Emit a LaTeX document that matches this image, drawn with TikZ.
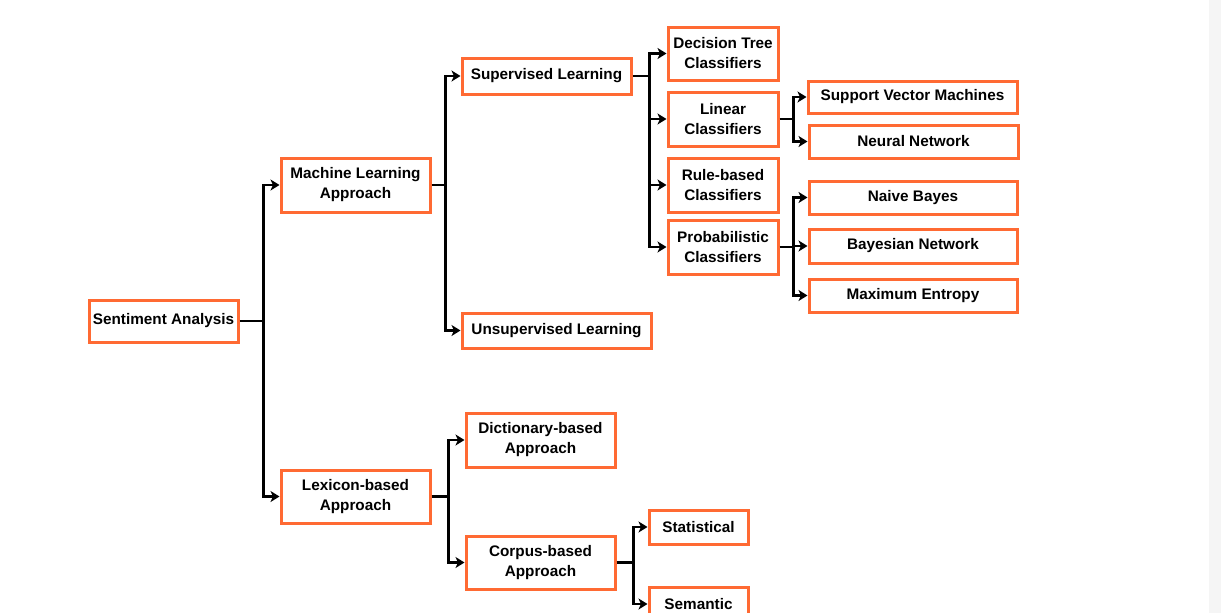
\documentclass[tikz,border=0pt]{standalone}
\usepackage{fontspec}
\setmainfont{Liberation Sans}
\usetikzlibrary{arrows.meta,positioning}
\definecolor{boxorange}{HTML}{FF6A33}
\begin{document}
\begin{tikzpicture}[
  x=1pt, y=-1pt,
  block/.style={rectangle, draw=boxorange, line width=3pt, fill=white, align=center,
    inner sep=2pt, font=\bfseries\fontsize{15.3}{20}\selectfont},
  link/.style={line width=2.7pt},
  arr/.style={link, -{Stealth[length=9pt,width=11pt,inset=2.5pt]}}
]
\useasboundingbox (0,0) rectangle (1221,613);
\fill[black!4] (1209,0) rectangle (1221,613);

% level 0 and 1
\node[block, minimum width=149pt, minimum height=42pt] (sa) at (163.5,321) {Sentiment Analysis};
\node[block, minimum width=149pt, minimum height=54pt] (ml) at (355.5,185) {Machine Learning\\Approach};
\node[block, minimum width=149pt, minimum height=53pt] (lex) at (355.5,496.5) {Lexicon-based\\Approach};

% level 2
\node[block, minimum width=169pt, minimum height=36pt] (sup) at (546.5,76) {Supervised Learning};
\node[block, minimum width=189pt, minimum height=35pt] (unsup) at (556.5,330.5) {Unsupervised Learning};
\node[block, minimum width=149pt, minimum height=54pt] (dict) at (540.5,440) {Dictionary-based\\Approach};
\node[block, minimum width=149pt, minimum height=53pt] (corp) at (540.5,562.5) {Corpus-based\\Approach};

% level 3
\node[block, minimum width=110pt, minimum height=53pt] (dt) at (723,53.5) {Decision Tree\\Classifiers};
\node[block, minimum width=110pt, minimum height=54pt] (lin) at (723,119) {Linear\\Classifiers};
\node[block, minimum width=110pt, minimum height=54pt] (rule) at (723,185) {Rule-based\\Classifiers};
\node[block, minimum width=110pt, minimum height=54pt] (prob) at (723,247) {Probabilistic\\Classifiers};
\node[block, minimum width=99pt, minimum height=34pt] (stat) at (698.5,527) {Statistical};
\node[block, minimum width=99pt, minimum height=34pt] (sem) at (698.5,604) {Semantic};

% level 4
\node[block, minimum width=209pt, minimum height=32pt] (svm) at (912.5,97) {Support Vector Machines};
\node[block, minimum width=209pt, minimum height=33pt] (nn) at (913.5,141.5) {Neural Network};
\node[block, minimum width=208pt, minimum height=33pt] (nb) at (913,197.5) {Naive Bayes};
\node[block, minimum width=208pt, minimum height=34pt] (bn) at (913,246) {Bayesian Network};
\node[block, minimum width=208pt, minimum height=33pt] (me) at (913,295.5) {Maximum Entropy};

\draw[link] (sa.east) -- ++(24,0) coordinate (j1);
\draw[arr] (j1) |- (ml);
\draw[arr] (j1) |- (lex);

\draw[link] (ml.east) -- ++(14,0) coordinate (j2);
\draw[arr] (j2) |- (sup);
\draw[arr] (j2) |- (unsup);

\draw[link] (lex.east) -- ++(17,0) coordinate (j3);
\draw[arr] (j3) |- (dict);
\draw[arr] (j3) |- (corp);

\draw[link] (sup.east) -- ++(17,0) coordinate (j4);
\draw[arr] (j4) |- (dt);
\draw[arr] (j4) |- (lin);
\draw[arr] (j4) |- (rule);
\draw[arr] (j4) |- (prob);

\draw[link] (lin.east) -- ++(14,0) coordinate (j5);
\draw[arr] (j5) |- (svm);
\draw[arr] (j5) |- (nn);

\draw[link] (prob.east) -- ++(14,0) coordinate (j6);
\draw[arr] (j6) |- (nb);
\draw[arr] (j6) |- (bn);
\draw[arr] (j6) |- (me);

\draw[link] (corp.east) -- ++(17,0) coordinate (j7);
\draw[arr] (j7) |- (stat);
\draw[arr] (j7) |- (sem);
\end{tikzpicture}
\end{document}
